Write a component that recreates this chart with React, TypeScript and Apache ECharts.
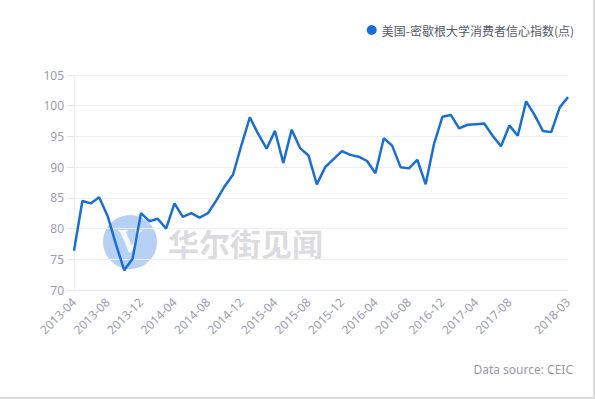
import React, { useEffect, useRef } from "react";
import * as echarts from "echarts";

const months: string[] = [
  "2013-04","2013-05","2013-06","2013-07","2013-08","2013-09","2013-10","2013-11","2013-12",
  "2014-01","2014-02","2014-03","2014-04","2014-05","2014-06","2014-07","2014-08","2014-09","2014-10","2014-11","2014-12",
  "2015-01","2015-02","2015-03","2015-04","2015-05","2015-06","2015-07","2015-08","2015-09","2015-10","2015-11","2015-12",
  "2016-01","2016-02","2016-03","2016-04","2016-05","2016-06","2016-07","2016-08","2016-09","2016-10","2016-11","2016-12",
  "2017-01","2017-02","2017-03","2017-04","2017-05","2017-06","2017-07","2017-08","2017-09","2017-10","2017-11","2017-12",
  "2018-01","2018-02","2018-03",
];

const sentiment: number[] = [
  76.4, 84.5, 84.1, 85.1, 82.1, 77.5, 73.2, 75.1, 82.5,
  81.2, 81.6, 80.0, 84.1, 81.9, 82.5, 81.8, 82.5, 84.6, 86.9, 88.8, 93.6,
  98.1, 95.4, 93.0, 95.9, 90.7, 96.1, 93.1, 91.9, 87.2, 90.0, 91.3, 92.6,
  92.0, 91.7, 91.0, 89.0, 94.7, 93.5, 90.0, 89.8, 91.2, 87.2, 93.8, 98.2,
  98.5, 96.3, 96.9, 97.0, 97.1, 95.1, 93.4, 96.8, 95.1, 100.7, 98.5, 95.9,
  95.7, 99.7, 101.4,
];

const seriesName = "美国-密歇根大学消费者信心指数(点)";
const sourceText = "Data source: CEIC";

export default function App() {
  const ref = useRef<HTMLDivElement>(null);
  useEffect(() => {
    if (!ref.current) return;
    const chart = echarts.init(ref.current, null, { renderer: "svg" });
    const last = months.length - 1;
    chart.setOption({
      animation: false,
      backgroundColor: "#ffffff",
      legend: {
        top: 19,
        right: 14,
        icon: "circle",
        itemWidth: 10,
        itemHeight: 10,
        itemGap: 6,
        textStyle: { color: "#555a66", fontSize: 12, fontFamily: "Noto Sans CJK SC" },
        data: [seriesName],
      },
      grid: { left: 74, right: 25, top: 75, bottom: 107, containLabel: false },
      xAxis: {
        type: "category",
        data: months,
        boundaryGap: false,
        axisLine: { show: true, lineStyle: { color: "#eceef2" } },
        axisTick: { show: false },
        splitLine: { show: false },
        axisLabel: {
          rotate: 45,
          color: "#9a9cb0",
          fontSize: 12,
          fontFamily: "Noto Sans",
          margin: 10,
          interval: (i: number) => (i % 4 === 0 && i <= 52) || i === last,
        },
      },
      yAxis: {
        type: "value",
        min: 70,
        max: 105,
        interval: 5,
        axisLine: { show: true, lineStyle: { color: "#eceef2" } },
        axisTick: { show: true, length: 7, lineStyle: { color: "#e4e6ea" } },
        splitLine: { show: true, lineStyle: { color: "#eef0f4" } },
        axisLabel: { color: "#9a9cb0", fontSize: 12, fontFamily: "Noto Sans", margin: 10 },
      },
      graphic: [
        {
          type: "circle",
          shape: { cx: 130, cy: 242, r: 27 },
          style: { fill: "#aac9f2", opacity: 0.85 },
          z: 0,
        },
        {
          type: "text",
          x: 130,
          y: 240,
          style: {
            text: "V",
            fill: "#ffffff",
            font: "bold 34px serif",
            textAlign: "center",
            textVerticalAlign: "middle",
            opacity: 0.9,
          },
          z: 0,
        },
        {
          type: "text",
          x: 168,
          y: 242,
          style: {
            text: "华尔街见闻",
            fill: "#d6d6da",
            font: "bold 31px 'Noto Sans CJK SC'",
            textVerticalAlign: "middle",
            opacity: 0.85,
          },
          z: 0,
        },
        {
          type: "text",
          right: 20,
          top: 363,
          style: {
            text: sourceText,
            fill: "#9a9aa0",
            font: "12px 'Noto Sans'",
          },
        },
      ],
      series: [
        {
          name: seriesName,
          type: "line",
          data: sentiment,
          symbol: "none",
          itemStyle: { color: "#1a6fd4" },
          lineStyle: { color: "#1a6fd4", width: 2.5 },
          z: 5,
        },
      ],
    });
    return () => chart.dispose();
  }, []);
  return (
    <div
      style={{
        position: "fixed",
        left: 0,
        top: 0,
        width: 595,
        height: 399,
        boxSizing: "border-box",
        borderRight: "2px solid #dcdcdc",
        borderBottom: "2px solid #dcdcdc",
        background: "#fff",
      }}
    >
      <div ref={ref} style={{ width: 593, height: 397 }} />
    </div>
  );
}
